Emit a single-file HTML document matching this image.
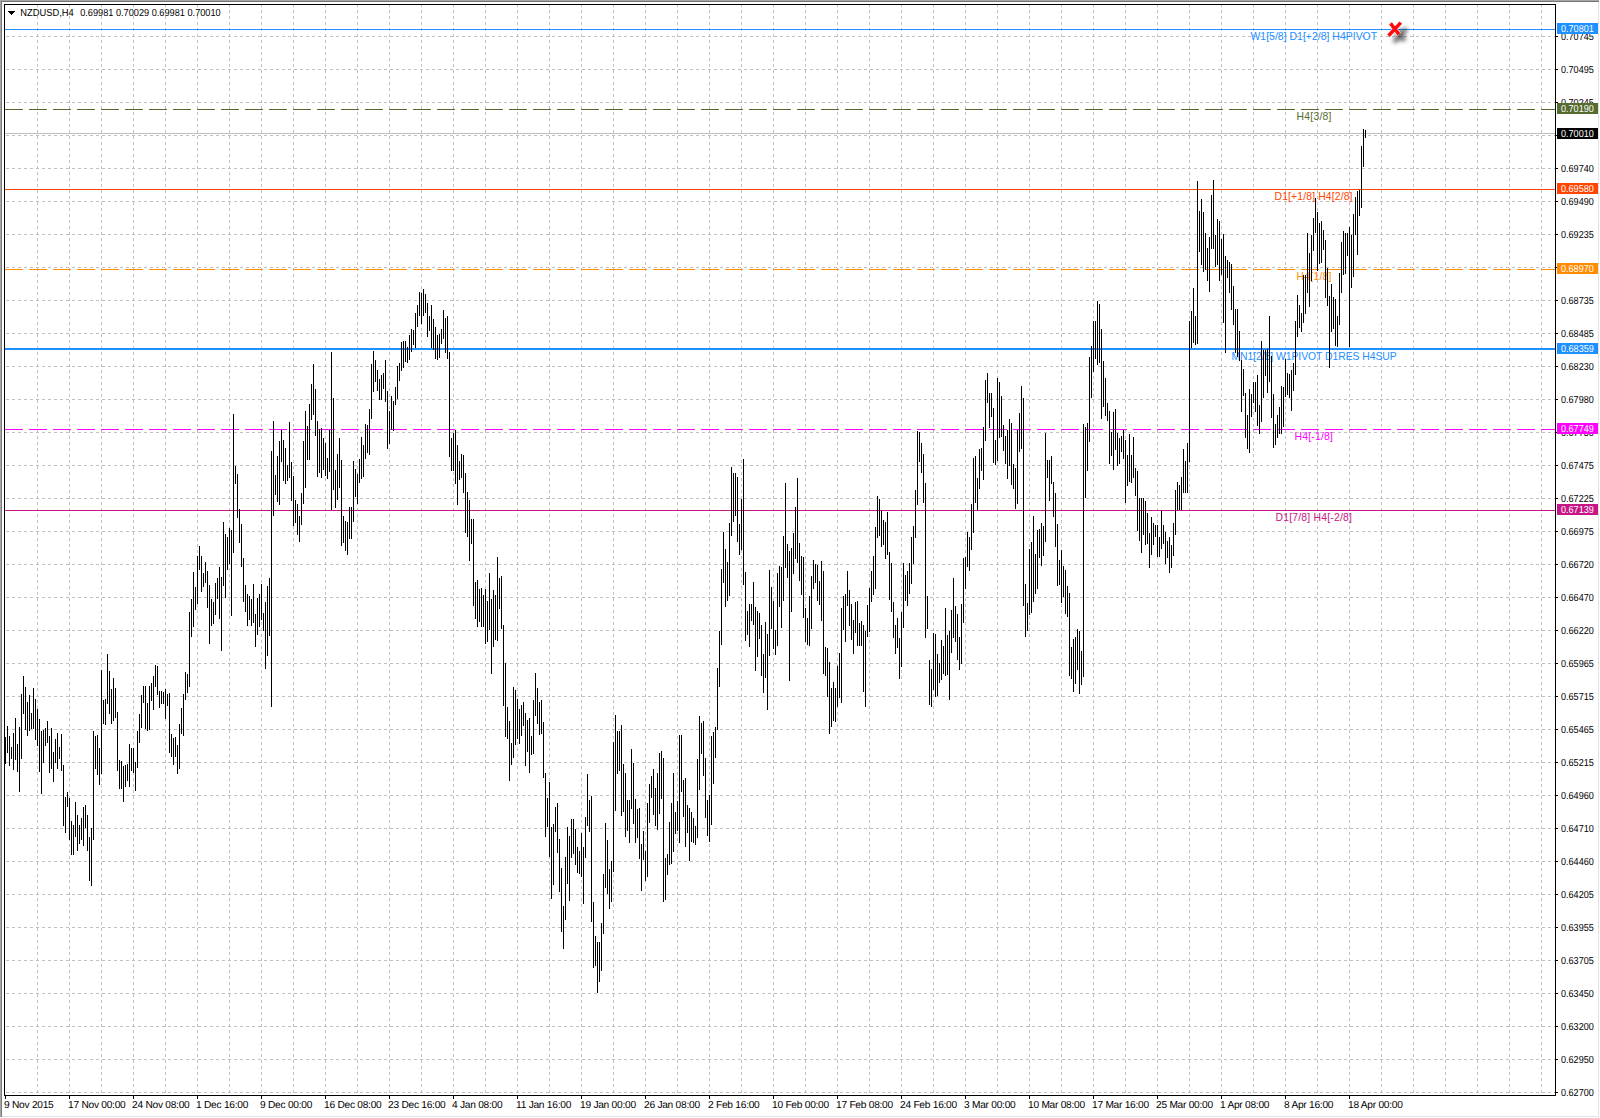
<!DOCTYPE html><html><head><meta charset="utf-8"><title>NZDUSD,H4</title><style>html,body{margin:0;padding:0;background:#fff;overflow:hidden}svg{display:block}text{font-family:"Liberation Sans", sans-serif}</style></head><body>
<svg width="1600" height="1118" viewBox="0 0 1600 1118">
<rect width="1600" height="1118" fill="#fff"/>
<g shape-rendering="crispEdges">
<rect x="0" y="0" width="1599" height="1" fill="#a6a6a6"/>
<rect x="0" y="1" width="1599" height="1" fill="#747474"/>
<rect x="0" y="0" width="1" height="1117" fill="#a6a6a6"/>
<rect x="1" y="1" width="1" height="1116" fill="#7c7c7c"/>
<rect x="1598" y="2" width="1" height="1116" fill="#e3e3e3"/>
<rect x="2" y="1116" width="1597" height="1" fill="#e3e3e3"/>
<path d="M37.5 5V1095M69.5 5V1095M101.5 5V1095M133.5 5V1095M165.5 5V1095M197.5 5V1095M229.5 5V1095M261.5 5V1095M293.5 5V1095M325.5 5V1095M357.5 5V1095M389.5 5V1095M421.5 5V1095M453.5 5V1095M485.5 5V1095M517.5 5V1095M549.5 5V1095M581.5 5V1095M613.5 5V1095M645.5 5V1095M677.5 5V1095M709.5 5V1095M741.5 5V1095M773.5 5V1095M805.5 5V1095M837.5 5V1095M869.5 5V1095M901.5 5V1095M933.5 5V1095M965.5 5V1095M997.5 5V1095M1029.5 5V1095M1061.5 5V1095M1093.5 5V1095M1125.5 5V1095M1157.5 5V1095M1189.5 5V1095M1221.5 5V1095M1253.5 5V1095M1285.5 5V1095M1317.5 5V1095M1349.5 5V1095M1381.5 5V1095M1413.5 5V1095M1445.5 5V1095M1477.5 5V1095M1509.5 5V1095M1541.5 5V1095" stroke="#c0c0c0" stroke-width="1" stroke-dasharray="3 3" stroke-dashoffset="1" fill="none"/>
<path d="M5 36.5H1555M5 69.5H1555M5 102.5H1555M5 135.5H1555M5 168.5H1555M5 201.5H1555M5 234.5H1555M5 267.5H1555M5 300.5H1555M5 333.5H1555M5 366.5H1555M5 399.5H1555M5 432.5H1555M5 465.5H1555M5 498.5H1555M5 531.5H1555M5 564.5H1555M5 597.5H1555M5 630.5H1555M5 663.5H1555M5 696.5H1555M5 729.5H1555M5 762.5H1555M5 795.5H1555M5 828.5H1555M5 861.5H1555M5 894.5H1555M5 927.5H1555M5 960.5H1555M5 993.5H1555M5 1026.5H1555M5 1059.5H1555M5 1092.5H1555" stroke="#c0c0c0" stroke-width="1" stroke-dasharray="3 3" stroke-dashoffset="5" fill="none"/>
<rect x="5" y="29" width="1550" height="1" fill="#1e90ff"/>
<path d="M5 109.5H1555" stroke="#556b2f" stroke-width="1" stroke-dasharray="18 6" fill="none"/>
<rect x="5" y="133" width="1550" height="1" fill="#c0c0c0"/>
<rect x="5" y="189" width="1550" height="1" fill="#ff4500"/>
<path d="M5 269.5H1555" stroke="#ff8c00" stroke-width="1" stroke-dasharray="18 6" fill="none"/>
<rect x="5" y="348" width="1550" height="2" fill="#1e90ff"/>
<path d="M5 429.5H1555" stroke="#ff00ff" stroke-width="1" stroke-dasharray="18 6" fill="none"/>
<rect x="5" y="510" width="1550" height="1" fill="#c71585"/>
</g>
<text x="1250.5" y="40" font-size="10.4" fill="#1e90ff" textLength="126.6" lengthAdjust="spacing">W1[5/8] D1[+2/8] H4PIVOT</text>
<text x="1296.5" y="120" font-size="10.4" fill="#556b2f" textLength="35.0" lengthAdjust="spacing">H4[3/8]</text>
<text x="1274.5" y="200" font-size="10.4" fill="#ff4500" textLength="78.0" lengthAdjust="spacing">D1[+1/8] H4[2/8]</text>
<text x="1296.5" y="280" font-size="10.4" fill="#ff8c00" textLength="35.0" lengthAdjust="spacing">H4[1/8]</text>
<text x="1231.5" y="360" font-size="10.4" fill="#1e90ff" textLength="165.2" lengthAdjust="spacing">MN1[2/8] W1PIVOT D1RES H4SUP</text>
<text x="1294.5" y="440" font-size="10.4" fill="#ff00ff" textLength="38.5" lengthAdjust="spacing">H4[-1/8]</text>
<text x="1275.5" y="521" font-size="10.4" fill="#c71585" textLength="76.4" lengthAdjust="spacing">D1[7/8] H4[-2/8]</text>
<path shape-rendering="crispEdges" d="M5.5 737V764M7.5 726V753M9.5 736V766M11.5 747V759M13.5 733V770M15.5 718V760M17.5 744V772M19.5 727V792M21.5 694V759M23.5 676V714M25.5 687V730M27.5 702V736M29.5 695V731M31.5 713V729M33.5 688V729M35.5 699V740M37.5 709V746M39.5 719V772M41.5 731V794M43.5 730V763M45.5 728V746M47.5 721V743M49.5 736V773M51.5 728V769M53.5 752V782M55.5 739V763M57.5 733V769M59.5 747V759M61.5 734V771M63.5 765V826M65.5 797V833M67.5 792V807M69.5 798V840M71.5 821V855M73.5 825V855M75.5 802V837M77.5 815V851M79.5 825V844M81.5 818V840M83.5 807V846M85.5 805V828M87.5 815V851M89.5 837V881M91.5 828V886M93.5 731V840M95.5 736V769M97.5 735V775M99.5 748V785M101.5 670V774M103.5 700V724M105.5 699V725M107.5 654V704M109.5 671V714M111.5 689V724M113.5 678V721M115.5 688V718M117.5 712V771M119.5 760V789M121.5 761V789M123.5 766V802M125.5 765V787M127.5 764V781M129.5 744V787M131.5 748V771M133.5 748V773M135.5 762V791M137.5 731V768M139.5 714V743M141.5 695V728M143.5 686V703M145.5 686V729M147.5 703V731M149.5 686V730M151.5 683V701M153.5 676V710M155.5 665V687M157.5 666V695M159.5 691V708M161.5 691V704M163.5 692V704M165.5 689V719M167.5 694V706M169.5 693V753M171.5 734V757M173.5 738V765M175.5 737V757M177.5 745V774M179.5 724V769M181.5 708V734M183.5 694V736M185.5 672V700M187.5 674V693M189.5 612V687M191.5 599V637M193.5 572V627M195.5 587V610M197.5 556V604M199.5 546V570M201.5 556V592M203.5 573V587M205.5 562V583M207.5 571V608M209.5 585V644M211.5 599V626M213.5 602V624M215.5 583V615M217.5 578V599M219.5 567V619M221.5 577V651M223.5 522V586M225.5 534V598M227.5 537V570M229.5 528V564M231.5 530V616M233.5 414V553M235.5 466V484M237.5 474V518M239.5 509V543M241.5 524V567M243.5 558V602M245.5 585V612M247.5 594V626M249.5 596V620M251.5 599V626M253.5 584V623M255.5 614V647M257.5 598V635M259.5 594V627M261.5 584V620M263.5 613V631M265.5 602V669M267.5 586V656M269.5 578V636M271.5 451V707M273.5 421V516M275.5 475V495M277.5 456V502M279.5 441V505M281.5 430V462M283.5 440V481M285.5 448V484M287.5 465V481M289.5 422V478M291.5 462V501M293.5 476V526M295.5 500V523M297.5 504V535M299.5 516V542M301.5 493V525M303.5 441V504M305.5 411V488M307.5 426V460M309.5 404V460M311.5 384V420M313.5 364V415M315.5 389V436M317.5 421V477M319.5 429V473M321.5 428V478M323.5 438V470M325.5 443V476M327.5 458V479M329.5 430V472M331.5 352V510M333.5 398V490M335.5 470V508M337.5 454V500M339.5 438V488M341.5 460V546M343.5 516V543M345.5 521V551M347.5 522V555M349.5 507V539M351.5 507V539M353.5 461V522M355.5 469V497M357.5 474V504M359.5 459V483M361.5 437V479M363.5 445V477M365.5 424V459M367.5 425V453M369.5 409V455M371.5 364V419M373.5 351V392M375.5 360V382M377.5 370V391M379.5 379V400M381.5 375V400M383.5 373V389M385.5 360V402M387.5 391V449M389.5 411V444M391.5 396V430M393.5 401V431M395.5 387V405M397.5 366V399M399.5 363V381M401.5 342V371M403.5 341V368M405.5 341V362M407.5 347V363M409.5 335V360M411.5 329V352M413.5 330V345M415.5 313V348M417.5 305V327M419.5 292V316M421.5 293V324M423.5 289V316M425.5 294V313M427.5 303V337M429.5 316V331M431.5 305V348M433.5 319V350M435.5 327V359M437.5 335V360M439.5 334V358M441.5 329V344M443.5 310V339M445.5 318V353M447.5 316V359M449.5 352V457M451.5 438V471M453.5 433V471M455.5 430V484M457.5 445V505M459.5 461V480M461.5 454V478M463.5 455V493M465.5 473V533M467.5 492V537M469.5 500V561M471.5 519V544M473.5 519V606M475.5 582V619M477.5 580V627M479.5 589V622M481.5 588V627M483.5 595V627M485.5 589V644M487.5 601V642M489.5 573V630M491.5 599V674M493.5 590V647M495.5 595V640M497.5 557V641M499.5 578V609M501.5 576V629M503.5 625V706M505.5 663V737M507.5 707V739M509.5 721V781M511.5 743V765M513.5 687V758M515.5 690V745M517.5 699V739M519.5 709V744M521.5 705V736M523.5 702V726M525.5 713V766M527.5 720V752M529.5 718V773M531.5 736V755M533.5 700V754M535.5 673V716M537.5 688V724M539.5 702V735M541.5 700V734M543.5 722V778M545.5 773V837M547.5 798V827M549.5 782V857M551.5 827V899M553.5 824V885M555.5 807V832M557.5 803V853M559.5 839V892M561.5 868V932M563.5 906V949M565.5 857V920M567.5 827V884M569.5 836V901M571.5 819V858M573.5 819V854M575.5 829V865M577.5 847V873M579.5 851V874M581.5 833V877M583.5 847V904M585.5 817V858M587.5 774V826M589.5 800V832M591.5 796V922M593.5 902V968M595.5 936V966M597.5 942V993M599.5 942V982M601.5 923V971M603.5 874V934M605.5 823V888M607.5 840V894M609.5 869V909M611.5 861V902M613.5 742V872M615.5 715V811M617.5 731V774M619.5 731V771M621.5 725V816M623.5 764V812M625.5 773V837M627.5 800V831M629.5 800V843M631.5 749V809M633.5 763V824M635.5 799V843M637.5 809V838M639.5 808V859M641.5 844V891M643.5 831V860M645.5 851V881M647.5 803V877M649.5 784V823M651.5 776V798M653.5 769V815M655.5 788V826M657.5 773V830M659.5 753V814M661.5 751V799M663.5 758V902M665.5 858V900M667.5 854V875M669.5 822V865M671.5 803V864M673.5 773V852M675.5 812V834M677.5 801V831M679.5 735V843M681.5 735V792M683.5 780V817M685.5 778V847M687.5 805V833M689.5 808V861M691.5 812V842M693.5 818V843M695.5 826V845M697.5 759V838M699.5 716V790M701.5 723V754M703.5 721V776M705.5 758V818M707.5 800V836M709.5 795V842M711.5 736V825M713.5 732V784M715.5 727V758M717.5 668V730M719.5 631V687M721.5 569V645M723.5 532V583M725.5 549V607M727.5 562V601M729.5 523V596M731.5 467V536M733.5 473V522M735.5 473V516M737.5 477V542M739.5 524V555M741.5 499V550M743.5 459V585M745.5 572V641M747.5 611V635M749.5 604V647M751.5 604V621M753.5 582V625M755.5 607V671M757.5 611V657M759.5 613V639M761.5 625V676M763.5 654V693M765.5 622V678M767.5 634V710M769.5 570V656M771.5 587V629M773.5 601V649M775.5 630V655M777.5 573V646M779.5 566V607M781.5 567V628M783.5 536V601M785.5 483V568M787.5 544V578M789.5 551V681M791.5 548V612M793.5 533V574M795.5 507V559M797.5 478V563M799.5 543V581M801.5 556V595M803.5 557V618M805.5 608V642M807.5 618V645M809.5 596V646M811.5 576V629M813.5 560V589M815.5 564V583M817.5 565V601M819.5 581V605M821.5 561V621M823.5 571V674M825.5 647V676M827.5 648V697M829.5 662V734M831.5 688V727M833.5 682V721M835.5 688V722M837.5 666V707M839.5 653V698M841.5 608V703M843.5 596V630M845.5 594V642M847.5 571V606M849.5 590V626M851.5 604V640M853.5 620V654M855.5 602V633M857.5 601V646M859.5 623V646M861.5 621V646M863.5 625V692M865.5 631V707M867.5 605V637M869.5 588V632M871.5 571V602M873.5 556V595M875.5 527V589M877.5 496V538M879.5 499V536M881.5 511V547M883.5 520V545M885.5 522V559M887.5 512V555M889.5 552V600M891.5 563V612M893.5 602V638M895.5 625V654M897.5 618V648M899.5 638V679M901.5 612V667M903.5 563V628M905.5 575V601M907.5 571V606M909.5 563V594M911.5 537V584M913.5 526V564M915.5 490V538M917.5 431V505M919.5 432V462M921.5 443V473M923.5 454V503M925.5 483V638M927.5 596V629M929.5 660V705M931.5 669V707M933.5 633V690M935.5 634V697M937.5 654V696M939.5 663V683M941.5 640V680M943.5 646V674M945.5 608V676M947.5 635V675M949.5 631V700M951.5 610V653M953.5 578V638M955.5 606V642M957.5 614V660M959.5 637V670M961.5 604V664M963.5 558V623M965.5 557V589M967.5 532V567M969.5 537V571M971.5 504V550M973.5 458V533M975.5 456V503M977.5 478V510M979.5 449V489M981.5 448V471M983.5 427V480M985.5 380V441M987.5 373V403M989.5 393V428M991.5 393V417M993.5 408V463M995.5 440V465M997.5 378V461M999.5 382V438M1001.5 396V437M1003.5 425V451M1005.5 436V464M1007.5 430V479M1009.5 419V466M1011.5 423V485M1013.5 464V489M1015.5 468V509M1017.5 430V504M1019.5 413V452M1021.5 386V449M1023.5 398V606M1025.5 584V637M1027.5 603V631M1029.5 549V615M1031.5 542V613M1033.5 516V602M1035.5 554V594M1037.5 530V589M1039.5 529V558M1041.5 523V566M1043.5 526V556M1045.5 433V542M1047.5 460V478M1049.5 460V501M1051.5 456V484M1053.5 482V517M1055.5 493V547M1057.5 524V586M1059.5 560V585M1061.5 550V603M1063.5 566V597M1065.5 570V614M1067.5 586V617M1069.5 593V676M1071.5 647V679M1073.5 639V692M1075.5 637V684M1077.5 629V670M1079.5 631V694M1081.5 651V685M1083.5 424V677M1085.5 427V498M1087.5 423V471M1089.5 357V442M1091.5 346V398M1093.5 321V372M1095.5 321V359M1097.5 301V365M1099.5 304V363M1101.5 329V419M1103.5 361V407M1105.5 378V416M1107.5 403V421M1109.5 411V464M1111.5 432V456M1113.5 412V470M1115.5 409V450M1117.5 433V466M1119.5 438V464M1121.5 436V452M1123.5 430V459M1125.5 440V503M1127.5 455V486M1129.5 434V482M1131.5 455V483M1133.5 437V478M1135.5 468V496M1137.5 471V531M1139.5 498V541M1141.5 498V553M1143.5 498V535M1145.5 501V545M1147.5 513V544M1149.5 533V568M1151.5 517V555M1153.5 523V545M1155.5 525V537M1157.5 525V557M1159.5 537V557M1161.5 511V549M1163.5 525V544M1165.5 532V564M1167.5 541V558M1169.5 537V573M1171.5 545V568M1173.5 523V556M1175.5 490V535M1177.5 482V510M1179.5 485V510M1181.5 477V510M1183.5 449V493M1185.5 461V493M1187.5 443V493M1189.5 321V462M1191.5 311V348M1193.5 288V343M1195.5 316V345M1197.5 181V344M1199.5 211V252M1201.5 199V265M1203.5 212V272M1205.5 233V270M1207.5 248V281M1209.5 237V292M1211.5 195V249M1213.5 180V249M1215.5 235V267M1217.5 219V265M1219.5 221V281M1221.5 239V275M1223.5 234V323M1225.5 256V353M1227.5 260V278M1229.5 262V293M1231.5 264V310M1233.5 286V325M1235.5 309V353M1237.5 309V357M1239.5 331V361M1241.5 360V412M1243.5 369V396M1245.5 393V438M1247.5 415V449M1249.5 389V453M1251.5 394V417M1253.5 382V403M1255.5 382V412M1257.5 375V426M1259.5 405V434M1261.5 341V422M1263.5 350V398M1265.5 350V376M1267.5 349V393M1269.5 316V382M1271.5 356V418M1273.5 394V448M1275.5 424V445M1277.5 415V438M1279.5 407V434M1281.5 386V434M1283.5 387V427M1285.5 359V397M1287.5 373V395M1289.5 374V398M1291.5 370V411M1293.5 363V391M1295.5 321V375M1297.5 295V337M1299.5 305V328M1301.5 313V332M1303.5 275V323M1305.5 275V314M1307.5 233V293M1309.5 253V307M1311.5 235V281M1313.5 218V251M1315.5 198V233M1317.5 212V271M1319.5 223V264M1321.5 221V263M1323.5 230V250M1325.5 240V298M1327.5 268V306M1329.5 296V368M1331.5 284V332M1333.5 297V329M1335.5 299V346M1337.5 316V347M1339.5 273V325M1341.5 242V293M1343.5 231V275M1345.5 233V274M1347.5 233V256M1349.5 227V347M1351.5 235V288M1353.5 214V277M1355.5 197V235M1357.5 191V255M1359.5 190V216M1361.5 146V208M1363.5 129V167M1365.5 130V138" stroke="#000" stroke-width="1" fill="none"/>
<g shape-rendering="crispEdges">
<rect x="4" y="4" width="1552" height="1" fill="#000"/>
<rect x="4" y="4" width="1" height="1092" fill="#000"/>
<rect x="1555" y="4" width="1" height="1092" fill="#000"/>
<rect x="4" y="1095" width="1552" height="1" fill="#000"/>
<rect x="1556" y="36" width="2" height="1" fill="#000"/>
<rect x="1556" y="69" width="2" height="1" fill="#000"/>
<rect x="1556" y="102" width="2" height="1" fill="#000"/>
<rect x="1556" y="135" width="2" height="1" fill="#000"/>
<rect x="1556" y="168" width="2" height="1" fill="#000"/>
<rect x="1556" y="201" width="2" height="1" fill="#000"/>
<rect x="1556" y="234" width="2" height="1" fill="#000"/>
<rect x="1556" y="267" width="2" height="1" fill="#000"/>
<rect x="1556" y="300" width="2" height="1" fill="#000"/>
<rect x="1556" y="333" width="2" height="1" fill="#000"/>
<rect x="1556" y="366" width="2" height="1" fill="#000"/>
<rect x="1556" y="399" width="2" height="1" fill="#000"/>
<rect x="1556" y="432" width="2" height="1" fill="#000"/>
<rect x="1556" y="465" width="2" height="1" fill="#000"/>
<rect x="1556" y="498" width="2" height="1" fill="#000"/>
<rect x="1556" y="531" width="2" height="1" fill="#000"/>
<rect x="1556" y="564" width="2" height="1" fill="#000"/>
<rect x="1556" y="597" width="2" height="1" fill="#000"/>
<rect x="1556" y="630" width="2" height="1" fill="#000"/>
<rect x="1556" y="663" width="2" height="1" fill="#000"/>
<rect x="1556" y="696" width="2" height="1" fill="#000"/>
<rect x="1556" y="729" width="2" height="1" fill="#000"/>
<rect x="1556" y="762" width="2" height="1" fill="#000"/>
<rect x="1556" y="795" width="2" height="1" fill="#000"/>
<rect x="1556" y="828" width="2" height="1" fill="#000"/>
<rect x="1556" y="861" width="2" height="1" fill="#000"/>
<rect x="1556" y="894" width="2" height="1" fill="#000"/>
<rect x="1556" y="927" width="2" height="1" fill="#000"/>
<rect x="1556" y="960" width="2" height="1" fill="#000"/>
<rect x="1556" y="993" width="2" height="1" fill="#000"/>
<rect x="1556" y="1026" width="2" height="1" fill="#000"/>
<rect x="1556" y="1059" width="2" height="1" fill="#000"/>
<rect x="1556" y="1092" width="2" height="1" fill="#000"/>
<rect x="5" y="1096" width="1" height="3" fill="#000"/>
<rect x="69" y="1096" width="1" height="3" fill="#000"/>
<rect x="133" y="1096" width="1" height="3" fill="#000"/>
<rect x="197" y="1096" width="1" height="3" fill="#000"/>
<rect x="261" y="1096" width="1" height="3" fill="#000"/>
<rect x="325" y="1096" width="1" height="3" fill="#000"/>
<rect x="389" y="1096" width="1" height="3" fill="#000"/>
<rect x="453" y="1096" width="1" height="3" fill="#000"/>
<rect x="517" y="1096" width="1" height="3" fill="#000"/>
<rect x="581" y="1096" width="1" height="3" fill="#000"/>
<rect x="645" y="1096" width="1" height="3" fill="#000"/>
<rect x="709" y="1096" width="1" height="3" fill="#000"/>
<rect x="773" y="1096" width="1" height="3" fill="#000"/>
<rect x="837" y="1096" width="1" height="3" fill="#000"/>
<rect x="901" y="1096" width="1" height="3" fill="#000"/>
<rect x="965" y="1096" width="1" height="3" fill="#000"/>
<rect x="1029" y="1096" width="1" height="3" fill="#000"/>
<rect x="1093" y="1096" width="1" height="3" fill="#000"/>
<rect x="1157" y="1096" width="1" height="3" fill="#000"/>
<rect x="1221" y="1096" width="1" height="3" fill="#000"/>
<rect x="1285" y="1096" width="1" height="3" fill="#000"/>
<rect x="1349" y="1096" width="1" height="3" fill="#000"/>
</g>
<g font-size="10.2" text-rendering="geometricPrecision" fill="#000">
<text x="1561" y="40" textLength="32.8" lengthAdjust="spacingAndGlyphs">0.70745</text>
<text x="1561" y="73" textLength="32.8" lengthAdjust="spacingAndGlyphs">0.70495</text>
<text x="1561" y="106" textLength="32.8" lengthAdjust="spacingAndGlyphs">0.70245</text>
<text x="1561" y="139" textLength="32.8" lengthAdjust="spacingAndGlyphs">0.69995</text>
<text x="1561" y="172" textLength="32.8" lengthAdjust="spacingAndGlyphs">0.69740</text>
<text x="1561" y="205" textLength="32.8" lengthAdjust="spacingAndGlyphs">0.69490</text>
<text x="1561" y="238" textLength="32.8" lengthAdjust="spacingAndGlyphs">0.69235</text>
<text x="1561" y="271" textLength="32.8" lengthAdjust="spacingAndGlyphs">0.68985</text>
<text x="1561" y="304" textLength="32.8" lengthAdjust="spacingAndGlyphs">0.68735</text>
<text x="1561" y="337" textLength="32.8" lengthAdjust="spacingAndGlyphs">0.68485</text>
<text x="1561" y="370" textLength="32.8" lengthAdjust="spacingAndGlyphs">0.68230</text>
<text x="1561" y="403" textLength="32.8" lengthAdjust="spacingAndGlyphs">0.67980</text>
<text x="1561" y="436" textLength="32.8" lengthAdjust="spacingAndGlyphs">0.67730</text>
<text x="1561" y="469" textLength="32.8" lengthAdjust="spacingAndGlyphs">0.67475</text>
<text x="1561" y="502" textLength="32.8" lengthAdjust="spacingAndGlyphs">0.67225</text>
<text x="1561" y="535" textLength="32.8" lengthAdjust="spacingAndGlyphs">0.66975</text>
<text x="1561" y="568" textLength="32.8" lengthAdjust="spacingAndGlyphs">0.66720</text>
<text x="1561" y="601" textLength="32.8" lengthAdjust="spacingAndGlyphs">0.66470</text>
<text x="1561" y="634" textLength="32.8" lengthAdjust="spacingAndGlyphs">0.66220</text>
<text x="1561" y="667" textLength="32.8" lengthAdjust="spacingAndGlyphs">0.65965</text>
<text x="1561" y="700" textLength="32.8" lengthAdjust="spacingAndGlyphs">0.65715</text>
<text x="1561" y="733" textLength="32.8" lengthAdjust="spacingAndGlyphs">0.65465</text>
<text x="1561" y="766" textLength="32.8" lengthAdjust="spacingAndGlyphs">0.65215</text>
<text x="1561" y="799" textLength="32.8" lengthAdjust="spacingAndGlyphs">0.64960</text>
<text x="1561" y="832" textLength="32.8" lengthAdjust="spacingAndGlyphs">0.64710</text>
<text x="1561" y="865" textLength="32.8" lengthAdjust="spacingAndGlyphs">0.64460</text>
<text x="1561" y="898" textLength="32.8" lengthAdjust="spacingAndGlyphs">0.64205</text>
<text x="1561" y="931" textLength="32.8" lengthAdjust="spacingAndGlyphs">0.63955</text>
<text x="1561" y="964" textLength="32.8" lengthAdjust="spacingAndGlyphs">0.63705</text>
<text x="1561" y="997" textLength="32.8" lengthAdjust="spacingAndGlyphs">0.63450</text>
<text x="1561" y="1030" textLength="32.8" lengthAdjust="spacingAndGlyphs">0.63200</text>
<text x="1561" y="1063" textLength="32.8" lengthAdjust="spacingAndGlyphs">0.62950</text>
<text x="1561" y="1096" textLength="32.8" lengthAdjust="spacingAndGlyphs">0.62700</text>
</g>
<rect shape-rendering="crispEdges" x="1557" y="23" width="41" height="11" fill="#1e90ff"/>
<text x="1561" y="32" font-size="10.2" text-rendering="geometricPrecision" textLength="32.8" lengthAdjust="spacingAndGlyphs" fill="#fff">0.70801</text>
<rect shape-rendering="crispEdges" x="1557" y="103" width="41" height="11" fill="#556b2f"/>
<text x="1561" y="112" font-size="10.2" text-rendering="geometricPrecision" textLength="32.8" lengthAdjust="spacingAndGlyphs" fill="#fff">0.70190</text>
<rect shape-rendering="crispEdges" x="1557" y="128" width="41" height="11" fill="#000"/>
<text x="1561" y="137" font-size="10.2" text-rendering="geometricPrecision" textLength="32.8" lengthAdjust="spacingAndGlyphs" fill="#fff">0.70010</text>
<rect shape-rendering="crispEdges" x="1557" y="183" width="41" height="11" fill="#ff4500"/>
<text x="1561" y="192" font-size="10.2" text-rendering="geometricPrecision" textLength="32.8" lengthAdjust="spacingAndGlyphs" fill="#fff">0.69580</text>
<rect shape-rendering="crispEdges" x="1557" y="263" width="41" height="11" fill="#ff8c00"/>
<text x="1561" y="272" font-size="10.2" text-rendering="geometricPrecision" textLength="32.8" lengthAdjust="spacingAndGlyphs" fill="#fff">0.68970</text>
<rect shape-rendering="crispEdges" x="1557" y="343" width="41" height="11" fill="#1e90ff"/>
<text x="1561" y="352" font-size="10.2" text-rendering="geometricPrecision" textLength="32.8" lengthAdjust="spacingAndGlyphs" fill="#fff">0.68359</text>
<rect shape-rendering="crispEdges" x="1557" y="423" width="41" height="11" fill="#ff00ff"/>
<text x="1561" y="432" font-size="10.2" text-rendering="geometricPrecision" textLength="32.8" lengthAdjust="spacingAndGlyphs" fill="#fff">0.67749</text>
<rect shape-rendering="crispEdges" x="1557" y="504" width="41" height="11" fill="#c71585"/>
<text x="1561" y="513" font-size="10.2" text-rendering="geometricPrecision" textLength="32.8" lengthAdjust="spacingAndGlyphs" fill="#fff">0.67139</text>
<g font-size="10.2" text-rendering="geometricPrecision" letter-spacing="-0.26" fill="#000">
<text x="4" y="1107.6">9 Nov 2015</text>
<text x="68" y="1107.6">17 Nov 00:00</text>
<text x="132" y="1107.6">24 Nov 08:00</text>
<text x="196" y="1107.6">1 Dec 16:00</text>
<text x="260" y="1107.6">9 Dec 00:00</text>
<text x="324" y="1107.6">16 Dec 08:00</text>
<text x="388" y="1107.6">23 Dec 16:00</text>
<text x="452" y="1107.6">4 Jan 08:00</text>
<text x="516" y="1107.6">11 Jan 16:00</text>
<text x="580" y="1107.6">19 Jan 00:00</text>
<text x="644" y="1107.6">26 Jan 08:00</text>
<text x="708" y="1107.6">2 Feb 16:00</text>
<text x="772" y="1107.6">10 Feb 00:00</text>
<text x="836" y="1107.6">17 Feb 08:00</text>
<text x="900" y="1107.6">24 Feb 16:00</text>
<text x="964" y="1107.6">3 Mar 00:00</text>
<text x="1028" y="1107.6">10 Mar 08:00</text>
<text x="1092" y="1107.6">17 Mar 16:00</text>
<text x="1156" y="1107.6">25 Mar 00:00</text>
<text x="1220" y="1107.6">1 Apr 08:00</text>
<text x="1284" y="1107.6">8 Apr 16:00</text>
<text x="1348" y="1107.6">18 Apr 00:00</text>
</g>
<rect x="19" y="7" width="203" height="9" fill="#fff"/>
<path shape-rendering="crispEdges" d="M8 11h7v1h-7zM9 12h5v1h-5zM10 13h3v1h-3zM11 14h1v1h-1z" fill="#000"/>
<text x="20.2" y="16" font-size="10.2" text-rendering="geometricPrecision" fill="#000" textLength="53.5" lengthAdjust="spacingAndGlyphs">NZDUSD,H4</text>
<text x="80.2" y="16" font-size="10.2" text-rendering="geometricPrecision" fill="#000" textLength="140.5" lengthAdjust="spacingAndGlyphs">0.69981 0.70029 0.69981 0.70010</text>
<defs><filter id="sh" x="-100%" y="-100%" width="300%" height="300%"><feGaussianBlur stdDeviation="2.3"/></filter></defs>
<g transform="translate(5.6,6.2)" filter="url(#sh)" opacity="0.62"><path d="M1390.5 23.4L1399.0 34.4M1388.5 35.8L1400.8 22.6" stroke="#000" stroke-width="4.6" fill="none"/></g>
<path d="M1390.5 23.4L1399.0 34.4M1388.5 35.8L1400.8 22.6" stroke="#fff" stroke-width="4.8" fill="none"/>
<path d="M1390.5 23.4L1399.0 34.4M1388.5 35.8L1400.8 22.6" stroke="#ff0a0a" stroke-width="3.5" fill="none"/>
</svg></body></html>
